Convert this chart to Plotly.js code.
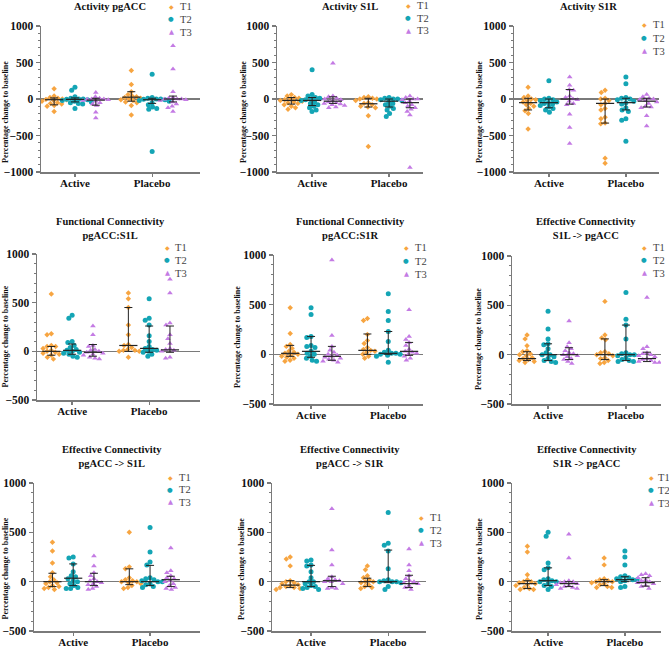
<!DOCTYPE html>
<html><head><meta charset="utf-8">
<script src="https://cdn.plot.ly/plotly-3.0.1.min.js"></script>
<style>html,body{margin:0;padding:0;background:#fff;} #chart{width:669px;height:648px;}</style>
</head><body><div id="chart"></div>
<script>
// ---------------- DATA ----------------
const categories = ['Active', 'Placebo'];
const groups = ['T1', 'T2', 'T3'];
const panelTitles = [
  'Activity pgACC', 'Activity S1L', 'Activity S1R',
  'Functional Connectivity<br>pgACC:S1L', 'Functional Connectivity<br>pgACC:S1R', 'Effective Connectivity<br>S1L -> pgACC',
  'Effective Connectivity<br>pgACC -> S1L', 'Effective Connectivity<br>pgACC -> S1R', 'Effective Connectivity<br>S1R -> pgACC'
];
const yAxisTitle = 'Percentage change to baseline';
const yRangeActivity = [-1000, 1000];
const yRangeConnectivity = [-500, 1000];

// Activity pgACC
const pgACC_Active_T1 = [140, 40, 20, 10, 0, -5, -10, -20, -30, -50, -60, -70, -90, -100, -170];
const pgACC_Active_T2 = [160, 120, 30, 10, 0, 0, -5, -10, -20, -30, -40, -50, -60, -70, -130];
const pgACC_Active_T3 = [90, 30, 10, 0, 0, -5, -10, -20, -30, -50, -70, -90, -180, -260];
const pgACC_Placebo_T1 = [390, 200, 100, 60, 40, 30, 20, 10, 0, -10, -20, -40, -50, -90, -220];
const pgACC_Placebo_T2 = [340, 20, 10, 0, 0, -5, -10, -20, -30, -50, -80, -110, -130, -140, -720];
const pgACC_Placebo_T3 = [730, 410, 100, 20, 10, 0, 0, -5, -10, -20, -40, -70, -100, -120, -170];
// Activity S1L
const S1L_Active_T1 = [60, 40, 20, 10, 0, -10, -20, -30, -40, -50, -60, -80, -100, -120, -140];
const S1L_Active_T2 = [400, 60, 40, 20, 10, 0, -10, -20, -40, -60, -80, -100, -120, -150, -170];
const S1L_Active_T3 = [490, 40, 30, 10, 0, -10, -20, -40, -50, -60, -70, -80, -90, -110, -120];
const S1L_Placebo_T1 = [30, 20, 10, 0, 0, -20, -50, -60, -80, -100, -110, -120, -230, -650];
const S1L_Placebo_T2 = [20, 10, 0, 0, -10, -20, -40, -60, -80, -100, -130, -150, -200, -240];
const S1L_Placebo_T3 = [40, 20, 0, 0, -10, -30, -50, -80, -100, -120, -140, -170, -220, -940];
// Activity S1R
const S1R_Active_T1 = [160, 40, 20, 0, -10, -20, -40, -60, -80, -100, -130, -160, -200, -410];
const S1R_Active_T2 = [250, 10, 0, -10, -20, -40, -50, -60, -70, -90, -110, -130, -150, -180];
const S1R_Active_T3 = [300, 190, 130, 120, 40, 20, 0, -10, -30, -60, -80, -210, -390, -610];
const S1R_Placebo_T1 = [120, 90, 10, 0, -20, -60, -80, -130, -150, -250, -270, -330, -340, -810, -880];
const S1R_Placebo_T2 = [300, 210, 20, 10, 0, -10, -30, -50, -70, -120, -150, -170, -270, -290, -580];
const S1R_Placebo_T3 = [60, 30, 10, 0, -10, -20, -40, -60, -100, -110, -120, -230, -370];
// Functional Connectivity pgACC:S1L
const FC_S1L_Active_T1 = [590, 180, 170, 60, 50, 50, 30, 10, 0, -10, -20, -30, -40, -60, -80];
const FC_S1L_Active_T2 = [370, 340, 100, 90, 60, 40, 20, 10, 0, -10, -20, -30, -50, -60];
const FC_S1L_Active_T3 = [260, 170, 60, 50, 20, 10, 0, -10, -20, -30, -40, -60, -70, -80];
const FC_S1L_Placebo_T1 = [600, 540, 450, 270, 170, 70, 60, 40, 20, 10, 10, 0, 0, -60];
const FC_S1L_Placebo_T2 = [540, 340, 320, 270, 160, 100, 50, 30, 20, 10, 0, -10, -30, -50];
const FC_S1L_Placebo_T3 = [740, 600, 290, 270, 170, 130, 80, 30, 20, 10, 0, -60, -70];
// Functional Connectivity pgACC:S1R
const FC_S1R_Active_T1 = [470, 210, 100, 80, 60, 30, 20, 10, 0, -10, -20, -30, -40, -60, -70];
const FC_S1R_Active_T2 = [470, 400, 180, 170, 90, 80, 70, 30, 10, 0, -20, -40, -60, -70];
const FC_S1R_Active_T3 = [950, 190, 80, 40, 20, 0, -10, -20, -30, -40, -50, -60, -70, -80];
const FC_S1R_Placebo_T1 = [360, 340, 200, 140, 110, 70, 50, 40, 30, 20, 0, -20, -40];
const FC_S1R_Placebo_T2 = [610, 430, 340, 230, 130, 40, 20, 10, 10, 0, 0, -10, -20, -80];
const FC_S1R_Placebo_T3 = [450, 180, 150, 120, 90, 50, 30, 20, 10, 0, -20, -40, -60];
// Effective Connectivity S1L -> pgACC
const EC_S1L_pgACC_Active_T1 = [200, 160, 90, 40, 30, 10, 0, -10, -30, -40, -50, -60, -70, -80];
const EC_S1L_pgACC_Active_T2 = [440, 260, 160, 110, 100, 60, 20, 0, 0, -20, -40, -60, -70, -80];
const EC_S1L_pgACC_Active_T3 = [340, 120, 80, 60, 40, 20, 10, 0, -10, -20, -40, -50, -70, -90];
const EC_S1L_pgACC_Placebo_T1 = [540, 200, 170, 150, 30, 20, 10, 0, -10, -30, -40, -60, -80, -90];
const EC_S1L_pgACC_Placebo_T2 = [630, 360, 300, 160, 20, 10, 0, 0, -10, -30, -50, -60, -70, -70];
const EC_S1L_pgACC_Placebo_T3 = [580, 80, 60, 20, 10, 0, -10, -20, -40, -50, -60, -70, -80, -80];
// Effective Connectivity pgACC -> S1L
const EC_pgACC_S1L_Active_T1 = [400, 310, 190, 90, 50, 20, 0, -10, -20, -40, -50, -60, -70, -80];
const EC_pgACC_S1L_Active_T2 = [250, 240, 180, 100, 60, 50, 30, 10, 0, -20, -40, -60, -70, -70];
const EC_pgACC_S1L_Active_T3 = [260, 160, 90, 60, 30, 10, 0, -10, -20, -30, -50, -70, -80];
const EC_pgACC_S1L_Placebo_T1 = [500, 150, 130, 40, 20, 10, 0, 0, -10, -20, -40, -60, -70];
const EC_pgACC_S1L_Placebo_T2 = [550, 300, 200, 170, 40, 30, 20, 10, 0, 0, -20, -30, -50, -60];
const EC_pgACC_S1L_Placebo_T3 = [340, 110, 90, 60, 40, 30, 10, 0, -20, -40, -60, -70, -80];
// Effective Connectivity pgACC -> S1R
const EC_pgACC_S1R_Active_T1 = [250, 230, 160, 10, 0, -10, -20, -30, -40, -50, -60, -60, -70, -80];
const EC_pgACC_S1R_Active_T2 = [220, 210, 170, 160, 100, 40, 0, 0, -20, -40, -50, -60, -70, -80];
const EC_pgACC_S1R_Active_T3 = [740, 320, 170, 50, 30, 20, 10, 0, 0, -20, -60, -70, -70];
const EC_pgACC_S1R_Placebo_T1 = [160, 120, 60, 40, 20, 0, 0, -10, -30, -50, -60, -70];
const EC_pgACC_S1R_Placebo_T2 = [700, 390, 370, 310, 130, 20, 10, 0, 0, 0, -10, -50, -80];
const EC_pgACC_S1R_Placebo_T3 = [330, 170, 110, 60, 30, 10, 0, -10, -20, -40, -60, -80];
// Effective Connectivity S1R -> pgACC
const EC_S1R_pgACC_Active_T1 = [360, 300, 70, 20, 0, 0, -10, -20, -30, -40, -60, -70, -80, -80];
const EC_S1R_pgACC_Active_T2 = [500, 460, 190, 140, 120, 30, 20, 10, 0, 0, -20, -40, -50, -80];
const EC_S1R_pgACC_Active_T3 = [480, 240, 10, 0, 0, -10, -20, -30, -40, -50, -60, -70, -70];
const EC_S1R_pgACC_Placebo_T1 = [240, 170, 30, 20, 10, 0, 0, -10, -20, -30, -50, -60, -60];
const EC_S1R_pgACC_Placebo_T2 = [310, 250, 170, 60, 50, 40, 30, 20, 20, 10, 0, -50, -60];
const EC_S1R_pgACC_Placebo_T3 = [80, 70, 60, 40, 20, 10, 0, -10, -20, -40, -50, -70];

// Median and interquartile range, order: Active T1,T2,T3, Placebo T1,T2,T3
const med_pgACC = [-10, -5, -15, 25, -10, 0];   const q1_pgACC = [-80, -40, -85, -30, -60, -40];   const q3_pgACC = [15, 15, 10, 100, 10, 40];
const med_S1L = [-20, -20, -30, -65, -30, -50];  const q1_S1L = [-70, -90, -60, -110, -110, -120];  const q3_S1L = [20, 20, 30, 10, 0, 0];
const med_S1R = [-50, -50, 0, -60, -50, -30];    const q1_S1R = [-150, -120, -70, -330, -150, -110]; const q3_S1R = [10, 0, 130, 0, 10, 10];
const med_FC_S1L = [0, 10, -10, 60, 30, 15];     const q1_FC_S1L = [-40, -30, -50, 0, -10, -10];    const q3_FC_S1L = [50, 75, 70, 450, 260, 260];
const med_FC_S1R = [10, 30, -20, 40, 10, 30];    const q1_FC_S1R = [-20, -30, -60, 0, 0, -10];      const q3_FC_S1R = [90, 180, 80, 205, 230, 120];
const med_EC_S1L_pgACC = [-40, 0, 0, 0, 0, -40]; const q1_EC_S1L_pgACC = [-60, -60, -50, -50, -60, -70]; const q3_EC_S1L_pgACC = [30, 110, 70, 160, 300, 25];
const med_EC_pgACC_S1L = [0, 35, 0, 0, 0, 20];   const q1_EC_pgACC_S1L = [-50, -40, -40, -30, -40, -50]; const q3_EC_pgACC_S1L = [85, 180, 85, 130, 165, 55];
const med_EC_pgACC_S1R = [-35, 0, 10, 0, 0, -20]; const q1_EC_pgACC_S1R = [-60, -50, -50, -50, -10, -60]; const q3_EC_pgACC_S1R = [10, 165, 55, 35, 320, 65];
const med_EC_S1R_pgACC = [-20, 10, -20, 0, 20, -10]; const q1_EC_S1R_pgACC = [-70, -40, -50, -40, 0, -45]; const q3_EC_S1R_pgACC = [10, 140, 0, 20, 50, 40];

// ---------------- PANEL ASSEMBLY ----------------
const panels = [
  {data: [[pgACC_Active_T1, pgACC_Active_T2, pgACC_Active_T3], [pgACC_Placebo_T1, pgACC_Placebo_T2, pgACC_Placebo_T3]], med: med_pgACC, lo: q1_pgACC, hi: q3_pgACC, yr: yRangeActivity},
  {data: [[S1L_Active_T1, S1L_Active_T2, S1L_Active_T3], [S1L_Placebo_T1, S1L_Placebo_T2, S1L_Placebo_T3]], med: med_S1L, lo: q1_S1L, hi: q3_S1L, yr: yRangeActivity},
  {data: [[S1R_Active_T1, S1R_Active_T2, S1R_Active_T3], [S1R_Placebo_T1, S1R_Placebo_T2, S1R_Placebo_T3]], med: med_S1R, lo: q1_S1R, hi: q3_S1R, yr: yRangeActivity},
  {data: [[FC_S1L_Active_T1, FC_S1L_Active_T2, FC_S1L_Active_T3], [FC_S1L_Placebo_T1, FC_S1L_Placebo_T2, FC_S1L_Placebo_T3]], med: med_FC_S1L, lo: q1_FC_S1L, hi: q3_FC_S1L, yr: yRangeConnectivity},
  {data: [[FC_S1R_Active_T1, FC_S1R_Active_T2, FC_S1R_Active_T3], [FC_S1R_Placebo_T1, FC_S1R_Placebo_T2, FC_S1R_Placebo_T3]], med: med_FC_S1R, lo: q1_FC_S1R, hi: q3_FC_S1R, yr: yRangeConnectivity},
  {data: [[EC_S1L_pgACC_Active_T1, EC_S1L_pgACC_Active_T2, EC_S1L_pgACC_Active_T3], [EC_S1L_pgACC_Placebo_T1, EC_S1L_pgACC_Placebo_T2, EC_S1L_pgACC_Placebo_T3]], med: med_EC_S1L_pgACC, lo: q1_EC_S1L_pgACC, hi: q3_EC_S1L_pgACC, yr: yRangeConnectivity},
  {data: [[EC_pgACC_S1L_Active_T1, EC_pgACC_S1L_Active_T2, EC_pgACC_S1L_Active_T3], [EC_pgACC_S1L_Placebo_T1, EC_pgACC_S1L_Placebo_T2, EC_pgACC_S1L_Placebo_T3]], med: med_EC_pgACC_S1L, lo: q1_EC_pgACC_S1L, hi: q3_EC_pgACC_S1L, yr: yRangeConnectivity},
  {data: [[EC_pgACC_S1R_Active_T1, EC_pgACC_S1R_Active_T2, EC_pgACC_S1R_Active_T3], [EC_pgACC_S1R_Placebo_T1, EC_pgACC_S1R_Placebo_T2, EC_pgACC_S1R_Placebo_T3]], med: med_EC_pgACC_S1R, lo: q1_EC_pgACC_S1R, hi: q3_EC_pgACC_S1R, yr: yRangeConnectivity},
  {data: [[EC_S1R_pgACC_Active_T1, EC_S1R_pgACC_Active_T2, EC_S1R_pgACC_Active_T3], [EC_S1R_pgACC_Placebo_T1, EC_S1R_pgACC_Placebo_T2, EC_S1R_pgACC_Placebo_T3]], med: med_EC_S1R_pgACC, lo: q1_EC_S1R_pgACC, hi: q3_EC_S1R_pgACC, yr: yRangeConnectivity}
];

// ---------------- LAYOUT / STYLE ----------------
const W = 669, H = 648;
const boxes = [[41,200,26,172],[277,423,26,172],[514,659,26,172],
               [37,200,254,400],[274,423,255,404],[512,661,256,404],
               [34,200,483,631],[272,426,483,631],[512,661,483,631]];
const xRanges = [[0.56,2.62],[0.544,2.44],[0.547,2.43],[0.544,2.66],[0.52,2.45],[0.537,2.45],[0.49,2.65],[0.494,2.49],[0.53,2.47]];
const titlePos = [[110,6],[350,6],[588,6],[110,228.5],[350,228.5],[586,228.5],[112,456.5],[350,456.5],[587,456.5]];
const yTitlePos = [[5,112],[243,112],[479,112],[4.5,337],[237,337],[478,339],[4.5,569],[241,569],[479,569]];
const legendPos = [[171,6,13,178],[408,5.5,12.5,415],[644,25,13,651],[167,248,12.5,173],[406,248,13,413],[644,248,12.5,651],[170,477,12.5,177],[421,517,13,428],[651,477,13,656]];

const serif = '"Liberation Serif", "Times New Roman", serif';
const colors = ['#F7A541', '#14A5B5', '#C47BE4'];
const symbols = ['diamond', 'circle', 'triangle-up'];
const mSizes = [4.2, 5, 5];
const glyphs = ['\u25C6', '\u25CF', '\u25B2'];
const groupOffset = [-0.27, 0, 0.27];
const axisCol = '#7a7a7a';
const barCol = '#222';

function swarm(vals, pxPerY, d) {
  const idx = vals.map((v, i) => i).sort((a, b) => vals[b] - vals[a]);
  const placed = []; const dx = new Array(vals.length).fill(0);
  for (const i of idx) {
    const y = vals[i] * pxPerY;
    const forb = [];
    for (const p of placed) {
      const dy = Math.abs(p.y - y);
      if (dy < d) { const w = Math.sqrt(d * d - dy * dy); forb.push([p.x - w, p.x + w]); }
    }
    const cands = [0];
    forb.forEach(f => cands.push(f[0], f[1]));
    cands.sort((a, b) => (Math.abs(a) - Math.abs(b)) || (a - b));
    let x = 0;
    for (const c of cands) {
      if (forb.every(f => c <= f[0] + 1e-6 || c >= f[1] - 1e-6)) { x = c; break; }
    }
    placed.push({x, y}); dx[i] = x;
  }
  return dx;
}

const px = v => v / W, py = v => 1 - v / H;
const traces = [];
const annotations = [];
const layout = {
  width: W, height: H, margin: {l: 0, r: 0, t: 0, b: 0},
  paper_bgcolor: '#fff', plot_bgcolor: '#fff', showlegend: false,
  font: {family: serif, color: '#111'}
};

panels.forEach((p, i) => {
  const n = i + 1, sfx = n === 1 ? '' : String(n);
  const [x0, x1, y0, y1] = boxes[i];
  const xr = xRanges[i], yr = p.yr;
  const pxPerX = (x1 - x0) / (xr[1] - xr[0]);
  const pxPerY = (y1 - y0) / (yr[1] - yr[0]);

  groups.forEach((g, gi) => {
    const xs = [], ys = [];
    categories.forEach((c, ci) => {
      const vals = p.data[ci][gi];
      const dx = swarm(vals, pxPerY, 4.4);
      vals.forEach((v, k) => { xs.push(ci + 1 + groupOffset[gi] + dx[k] / pxPerX); ys.push(v); });
    });
    traces.push({type: 'scatter', mode: 'markers', x: xs, y: ys, xaxis: 'x' + sfx, yaxis: 'y' + sfx,
      name: g, showlegend: false, hoverinfo: 'y',
      marker: {symbol: symbols[gi], size: mSizes[gi], color: colors[gi], line: {width: 0}}});
  });

  const ex = [], ey = [], eu = [], ed = [];
  categories.forEach((c, ci) => groups.forEach((g, gi) => {
    const k = ci * 3 + gi;
    ex.push(ci + 1 + groupOffset[gi]); ey.push(p.med[k]);
    eu.push(p.hi[k] - p.med[k]); ed.push(p.med[k] - p.lo[k]);
  }));
  traces.push({type: 'scatter', mode: 'markers', x: ex, y: ey, xaxis: 'x' + sfx, yaxis: 'y' + sfx,
    showlegend: false, hoverinfo: 'y',
    marker: {symbol: 'line-ew', size: 13, color: barCol, line: {width: 1.2, color: barCol}},
    error_y: {type: 'data', symmetric: false, array: eu, arrayminus: ed, color: barCol, thickness: 1, width: 4}});

  layout['xaxis' + sfx] = {
    domain: [px(x0), px(x1)], anchor: 'y' + sfx, range: xr, fixedrange: true,
    tickmode: 'array', tickvals: [1, 2], ticktext: categories,
    showline: true, linecolor: axisCol, linewidth: 1.5, ticks: 'outside', ticklen: 3, tickwidth: 1.3, tickcolor: axisCol,
    ticklabelstandoff: -3,
    showgrid: false, zeroline: false,
    tickfont: {family: serif, size: 11, color: '#111', weight: 'bold'}
  };
  layout['yaxis' + sfx] = {
    domain: [py(y1), py(y0)], anchor: 'x' + sfx, range: yr, fixedrange: true,
    tick0: 0, dtick: 500, showline: true, linecolor: axisCol, linewidth: 1.5,
    ticks: 'outside', ticklen: 4, tickwidth: 1.3, tickcolor: axisCol,
    minor: {dtick: 100, ticks: 'outside', ticklen: 2, tickwidth: 1, tickcolor: axisCol},
    showgrid: false, zeroline: true, zerolinecolor: axisCol, zerolinewidth: 1.5,
    tickfont: {family: serif, size: 11.5, color: '#111', weight: 'bold'}
  };

  annotations.push({text: panelTitles[i], xref: 'paper', yref: 'paper', x: px(titlePos[i][0]), y: py(titlePos[i][1]),
    xanchor: 'center', yanchor: 'middle', showarrow: false,
    font: {family: serif, size: 10.5, color: '#111', weight: 'bold'}});
  annotations.push({text: yAxisTitle, xref: 'paper', yref: 'paper', x: px(yTitlePos[i][0]), y: py(yTitlePos[i][1]),
    xanchor: 'center', yanchor: 'middle', showarrow: false, textangle: -90,
    font: {family: serif, size: 8, color: '#111', weight: 'bold'}});

  const [mx, ly, sp, tx] = legendPos[i];
  groups.forEach((g, gi) => {
    const yy = ly + gi * sp;
    annotations.push({text: glyphs[gi], xref: 'paper', yref: 'paper', x: px(mx), y: py(yy),
      xanchor: 'center', yanchor: 'middle', showarrow: false,
      font: {family: '"DejaVu Sans", sans-serif', size: gi === 0 ? 6 : 6.5, color: colors[gi]}});
    annotations.push({text: g, xref: 'paper', yref: 'paper', x: px(tx), y: py(yy),
      xanchor: 'left', yanchor: 'middle', showarrow: false,
      font: {family: serif, size: 10.5, color: '#444'}});
  });
});
layout.annotations = annotations;

Plotly.newPlot('chart', traces, layout, {displayModeBar: false, staticPlot: true});
</script>
</body></html>
